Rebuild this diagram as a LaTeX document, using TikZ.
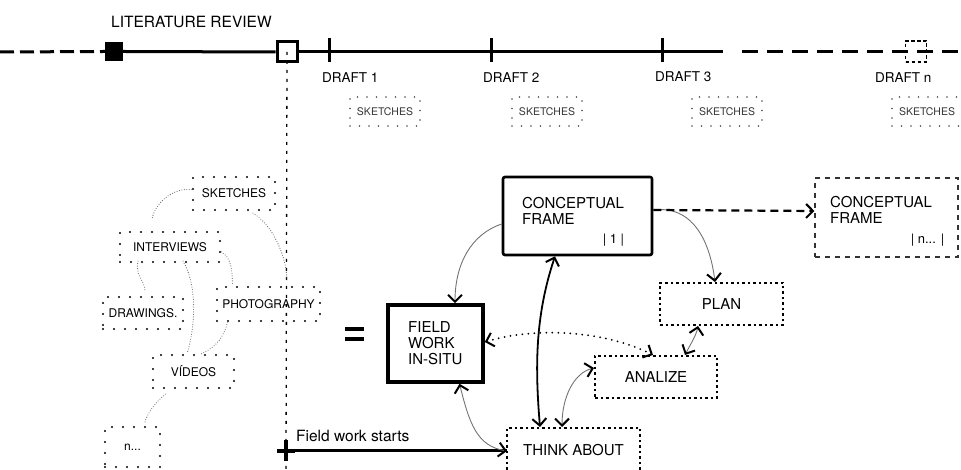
\documentclass[tikz,border=0pt]{standalone}
\usepackage{fontspec}
\setmainfont{TeX Gyre Heros}
\usetikzlibrary{arrows.meta}
\begin{document}
\begin{tikzpicture}[x=1pt,y=1pt,
  >={Straight Barb[length=7pt,width=14pt,line width=2pt,color=black]},
  tl/.style={line width=3pt, draw=black},
  wh/.style 2 args={minimum width=#1pt, minimum height=#2pt, inner sep=0pt},
  txt/.style={inner sep=0pt, anchor=west},
  clbox/.style={draw=black, line width=2.4pt, line cap=round, dash pattern=on 0pt off 11pt, font=\fontsize{12}{14}\selectfont},
  skbox/.style={draw=black!70, line width=1.8pt, line cap=round, dash pattern=on 0pt off 9.5pt, font=\fontsize{10.5}{12}\selectfont, text=black!80, wh={70}{29}},
  clink/.style={draw=black!60, line width=1.1pt, line cap=round, dash pattern=on 0pt off 2.5pt},
  dotbox/.style={draw=black, line width=2pt, dash pattern=on 2.5pt off 3pt, font=\fontsize{15}{17}\selectfont},
  thin/.style={draw=black!55, line width=0.9pt},
  big/.style={font=\fontsize{15}{16}\selectfont},
]
\useasboundingbox (0,0) rectangle (961,470);

% ---------- timeline ----------
\node[fill=black, wh={18}{19}] (lit) at (114,418.5) {};
\node[draw=black, line width=3pt, wh={20}{20}] (fsq) at (287,418) {};
\coordinate (tl0) at (0,418);
\coordinate (tlA) at (723,418);
\coordinate (tlB) at (742,418);
\coordinate (tl1) at (961,418);
\draw[tl, dash pattern=on 14pt off 6pt] (tl0) -- (lit.west);
\draw[tl] (lit.east) -- (fsq.west);
\draw[tl] (fsq.east) -- (tlA);
\draw[tl, dash pattern=on 16pt off 9pt] (tlB) -- (tl1);
\node[draw=black, line width=1.7pt, dash pattern=on 3.5pt off 2.5pt, wh={21}{21}] (dn) at (916,418.5) {};
\coordinate (d1) at (329,418);
\coordinate (d2) at (491,418);
\coordinate (d3) at (662,418);
\foreach \d in {d1,d2,d3} \draw[tl] ([yshift=14pt]\d) -- ([yshift=-10pt]\d);

\node[txt, font=\fontsize{15.5}{18}\selectfont] (litl) at (111,448) {LITERATURE REVIEW};
\node[txt, font=\fontsize{13.5}{16}\selectfont] (d1l) at (322,392) {DRAFT 1};
\node[txt, font=\fontsize{13.5}{16}\selectfont] (d2l) at (483,392) {DRAFT 2};
\node[txt, font=\fontsize{13.5}{16}\selectfont] (d3l) at (655,393) {DRAFT 3};
\node[txt, font=\fontsize{13.5}{16}\selectfont] (dnl) at (875,392) {DRAFT n};

\node[skbox] (s1) at (385,358.5) {SKETCHES};
\node[skbox] (s2) at (547,358.5) {SKETCHES};
\node[skbox] (s3) at (727,358.5) {SKETCHES};
\node[skbox] (s4) at (927,358.5) {SKETCHES};

% vertical dotted line and plus
\coordinate (plus) at (286,19);
\coordinate (vbot) at (286,0);
\draw[black, line width=1.3pt, dash pattern=on 3pt off 6pt] (fsq.center) -- (vbot);
\draw[black, line width=4.5pt] ([xshift=-9pt]plus) -- ([xshift=9pt]plus);
\draw[black, line width=4pt] ([yshift=-10pt]plus) -- ([yshift=11pt]plus);

% ---------- left cluster ----------
\node[clbox, wh={82}{33}] (sk) at (234,276.5) {SKETCHES};
\node[clbox, wh={100}{30}] (int) at (170,223) {INTERVIEWS};
\node[clbox, wh={80}{32}] (dr) at (143,157) {DRAWINGS.};
\node[clbox, wh={103}{34}] (ph) at (268.5,166) {PHOTOGRAPHY};
\node[clbox, wh={81}{33}] (vid) at (193.5,98.5) {VÍDEOS};
\node[clbox, wh={55}{40}] (nn) at (132.5,23) {n...};

\draw[clink] ([shift={(0,4)}]sk.west) .. controls +(-20,2) and +(3,15) .. ([shift={(-18,12)}]int.north);
\draw[clink] ([shift={(19,-2)}]sk.south) .. controls +(20,-12) and +(0,25) .. ([shift={(18.5,4)}]ph.north);
\draw[clink] ([shift={(-32,2)}]int.south) .. controls +(-3,-15) and +(0,10) .. ([shift={(2,5)}]dr.north);
\draw[clink] ([shift={(13,2)}]int.south) .. controls +(15,-25) and +(8,25) .. ([shift={(-6.5,0)}]vid.north);
\draw[clink] ([shift={(0,-5)}]int.east) .. controls +(10,-5) and +(0,15) .. ([shift={(-36,0)}]ph.north);
\draw[clink] ([shift={(-41,0)}]ph.south) .. controls +(-5,-20) and +(10,5) .. ([shift={(8,0)}]vid.north);
\draw[clink] ([shift={(-28,-5)}]vid.south) .. controls +(-10,-8) and +(2,10) .. ([shift={(12,2)}]nn.north);

% equals sign
\coordinate (eq) at (354.5,136);
\draw[black, line width=4pt] ([shift={(-9.5,5)}]eq) -- ([shift={(9.5,5)}]eq);
\draw[black, line width=4pt] ([shift={(-9.5,-5)}]eq) -- ([shift={(9.5,-5)}]eq);

% ---------- main nodes ----------
\node[draw=black, line width=3.6pt, wh={95}{77}] (fw) at (435.5,126.5) {};
\node[txt, big, align=left] (fwt) at (408,126.5) {FIELD\\WORK\\IN-SITU};

\node[draw=black, line width=2.6pt, rounded corners=2pt, wh={149}{78}] (cf1) at (577.5,254) {};
\node[txt, big, align=left] (cf1t) at (522,259) {CONCEPTUAL\\FRAME};
\node[inner sep=0pt, font=\fontsize{13}{15}\selectfont] (cf1n) at (613.5,230) {| 1 |};

\node[draw=black!80, line width=1.1pt, dash pattern=on 5pt off 5pt, wh={143}{79}] (cfn) at (886.5,252.5) {};
\node[txt, big, align=left] (cfnt) at (830,260) {CONCEPTUAL\\FRAME};
\node[inner sep=0pt, font=\fontsize{13}{15}\selectfont] (cfnn) at (927.5,230) {| n... |};

\node[dotbox, wh={123}{42}] (plan) at (721.5,166) {PLAN};
\node[dotbox, wh={122}{42}] (an) at (656,93) {ANALIZE};
\node[dotbox, wh={133}{52}] (think) at (573.5,16) {};
\node[inner sep=0pt, font=\fontsize{15}{17}\selectfont] (thinkt) at (573.5,20) {THINK ABOUT};
\coordinate (thinkw) at (507,19);

\node[txt, font=\fontsize{15.5}{18}\selectfont] (fwst) at (296,34) {Field work starts};

% ---------- connectors ----------
\draw[black, line width=3pt] (plus) -- (thinkw);
\draw[thin, ->] ([yshift=-8pt]cf1.west) .. controls +(-30,-10) and +(0,40) .. ([xshift=19.5pt]fw.north);
\draw[black, line width=1.8pt, <->] ([xshift=-22.5pt]cf1.south) .. controls +(-20,-60) and +(-5,60) .. ([xshift=-33.5pt]think.north);
\draw[thin, <->] ([xshift=24pt]fw.south) .. controls +(10,-40) and +(-30,5) .. (thinkw);
\draw[black, line width=2pt, line cap=round, dash pattern=on 0pt off 6pt, <->] ([yshift=1.5pt]fw.east) .. controls +(50,15) and +(-50,25) .. ([xshift=-3pt]an.north);
\draw[thin, <->] ([xshift=-11.5pt]think.north) .. controls +(0,30) and +(-20,-5) .. ([yshift=9pt]an.west);
\draw[thin, <->] ([xshift=-23.5pt]plan.south) .. controls +(-2,-10) and +(5,10) .. ([xshift=29pt]an.north);
\draw[thin, ->] ([yshift=6pt]cf1.east) .. controls +(40,5) and +(-5,40) .. ([xshift=-6.5pt]plan.north);
\draw[black, line width=2.2pt, dash pattern=on 8pt off 5pt, ->] ([yshift=6pt]cf1.east) -- ([yshift=6.5pt]cfn.west);
\end{tikzpicture}
\end{document}
